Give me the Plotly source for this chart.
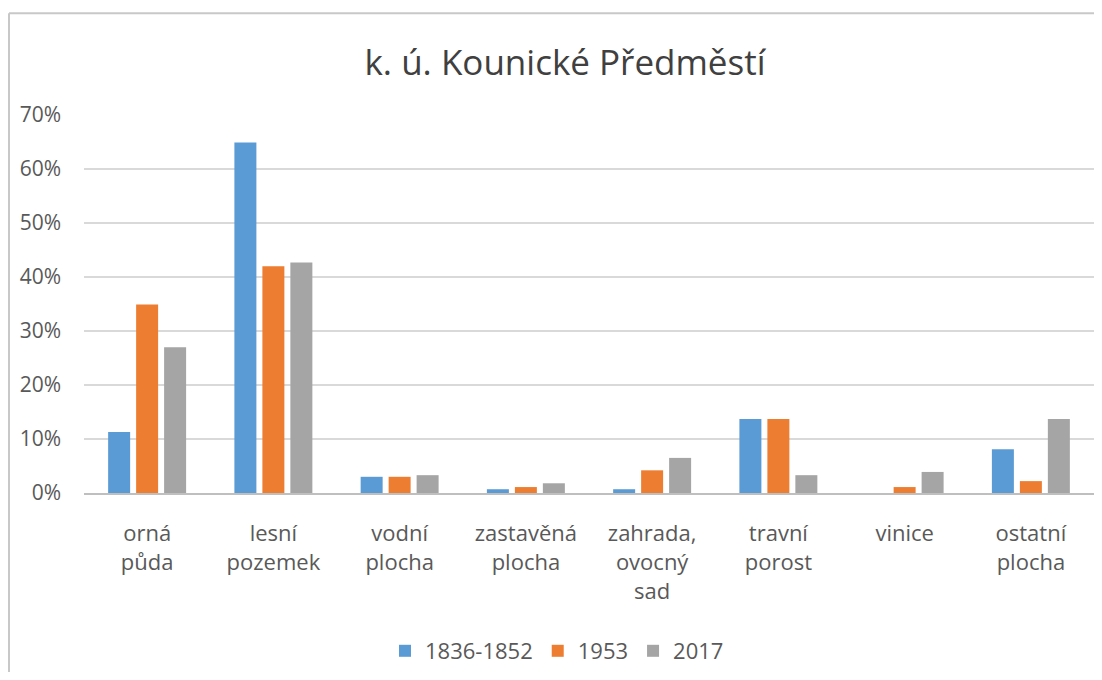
import plotly.graph_objects as go

categories = ["orná<br>půda", "lesní<br>pozemek", "vodní<br>plocha", "zastavěná<br>plocha",
              "zahrada,<br>ovocný<br>sad", "travní<br>porost", "vinice", "ostatní<br>plocha"]
series_names = ["1836-1852", "1953", "2017"]
v_1836 = [0.113, 0.649, 0.030, 0.007, 0.007, 0.137, 0.0, 0.081]
v_1953 = [0.349, 0.420, 0.030, 0.011, 0.042, 0.137, 0.011, 0.022]
v_2017 = [0.270, 0.427, 0.033, 0.018, 0.065, 0.033, 0.039, 0.137]
colors = ["#5B9BD5", "#ED7D31", "#A5A5A5"]

OFF = 8  # page body margin
W, H = 1102 - 2 * OFF, 680 - 2 * OFF
# plot area in page pixels: x 84..1094, y 115..494
ml = 84 - OFF
mr = W - (1094 - OFF)
mt = 115 - OFF
mb = H - (494 - OFF)
pw, ph = W - ml - mr, H - mt - mb


def px_x(x):  # page pixel -> paper x
    return (x - 84) / pw


def px_y(y):  # page pixel -> paper y
    return (494 - y) / ph


fig = go.Figure()
for name, vals, c in zip(series_names, [v_1836, v_1953, v_2017], colors):
    fig.add_trace(go.Bar(x=categories, y=vals, name=name, marker=dict(color=c, line=dict(width=0))))

font_fam = "Open Sans, sans-serif"
fig.update_layout(
    width=W, height=H,
    margin=dict(l=ml, r=mr, t=mt, b=mb, pad=0),
    paper_bgcolor="white", plot_bgcolor="white",
    barmode="group", bargap=0.335, bargroupgap=0.214,
    title=dict(text="k. ú. Kounické Předměstí", x=(565 - OFF) / W, xanchor="center",
               y=1 - (63 - OFF) / H, yanchor="middle",
               font=dict(family=font_fam, size=35, color="#404040")),
    font=dict(family=font_fam, color="#595959"),
    legend=dict(orientation="h", x=px_x(557), xanchor="center",
                y=px_y(652), yanchor="middle",
                font=dict(size=22, color="#595959"), itemwidth=30,
                traceorder="normal"),
    showlegend=True,
)
fig.update_yaxes(range=[0, 0.7], dtick=0.1, tickformat=".0%",
                 showgrid=True, gridcolor="#D9D9D9", gridwidth=1.5,
                 zeroline=False, showline=False, ticks="",
                 tickfont=dict(size=21, color="#595959"), ticklabelstandoff=22)
fig.update_xaxes(showline=True, linecolor="#BFBFBF", linewidth=2, ticks="",
                 tickfont=dict(size=22, color="#595959"), ticklabelstandoff=20,
                 tickangle=0)
# outer chart border (top and left edges visible in the crop)
fig.add_shape(type="line", xref="paper", yref="paper",
              x0=px_x(9), x1=px_x(1120), y0=px_y(13), y1=px_y(13),
              line=dict(color="#C8C8C8", width=2), layer="below")
fig.add_shape(type="line", xref="paper", yref="paper",
              x0=px_x(9), x1=px_x(9), y0=px_y(13), y1=px_y(700),
              line=dict(color="#C8C8C8", width=2), layer="below")

fig.write_html("out.html")
